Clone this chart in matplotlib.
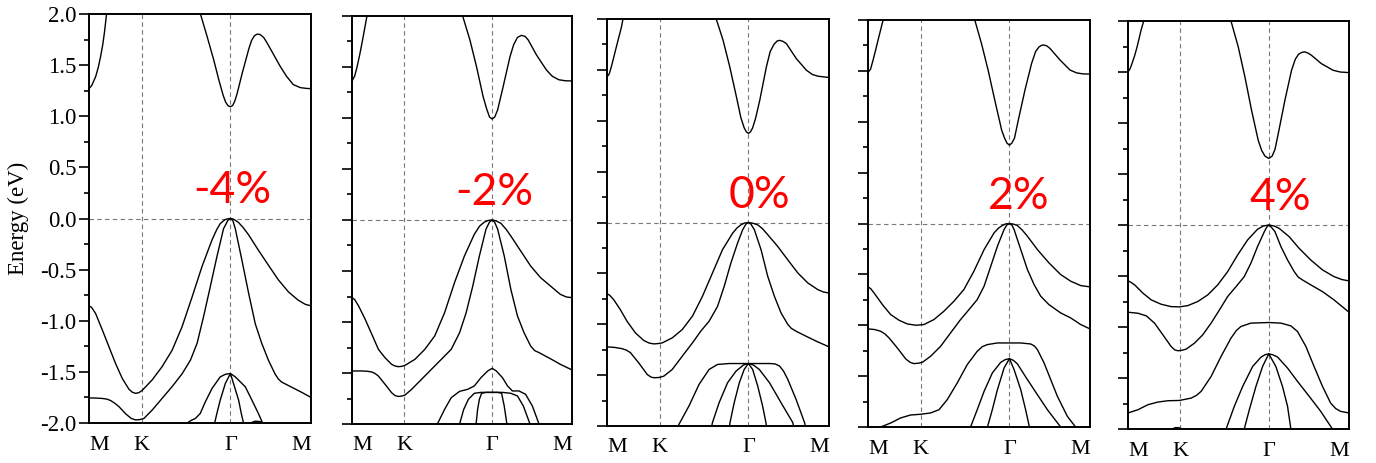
import matplotlib
matplotlib.use("Agg")
import matplotlib.pyplot as plt
from matplotlib.ticker import MultipleLocator, FormatStrFormatter

# high-symmetry path (fraction of path length)
kpath = [0.0, 0.237, 0.637, 1.0]
klabels = ["M", "K", "Γ", "M"]
strain_labels = ["-4%", "-2%", "0%", "2%", "4%"]

# each band is a list of (k, E in eV)
m4_bands = [
    [(0, 1.27), (0.012, 1.3), (0.03, 1.387), (0.042, 1.48), (0.052, 1.582), (0.062, 1.7),
     (0.07, 1.827), (0.079, 2.0)],
    [(0.502, 2.0), (0.517, 1.89), (0.532, 1.78), (0.562, 1.55), (0.585, 1.354), (0.604, 1.207),
     (0.615, 1.14), (0.626, 1.103), (0.637, 1.093), (0.647, 1.105), (0.657, 1.15), (0.667, 1.22),
     (0.69, 1.42), (0.72, 1.66), (0.732, 1.74), (0.745, 1.787), (0.757, 1.803), (0.77, 1.8),
     (0.787, 1.77), (0.8, 1.725), (0.817, 1.66), (0.862, 1.485), (0.89, 1.39), (0.92, 1.31),
     (0.952, 1.28), (0.98, 1.272), (1.0, 1.27)],
    [(0, -0.854), (0.012, -0.87), (0.03, -0.93), (0.06, -1.09), (0.09, -1.255), (0.12, -1.42),
     (0.15, -1.565), (0.18, -1.67), (0.196, -1.7), (0.21, -1.71), (0.225, -1.703), (0.24, -1.68),
     (0.284, -1.58), (0.329, -1.45), (0.374, -1.29), (0.419, -1.06), (0.464, -0.77),
     (0.509, -0.47), (0.554, -0.21), (0.575, -0.11), (0.591, -0.05), (0.612, -0.012),
     (0.625, -0.003), (0.637, 0.0), (0.648, -0.004), (0.657, -0.014), (0.674, -0.04),
     (0.695, -0.09), (0.719, -0.16), (0.763, -0.31), (0.808, -0.456), (0.853, -0.6),
     (0.898, -0.717), (0.943, -0.8), (0.975, -0.84), (1.0, -0.854)],
    [(0, -1.755), (0.03, -1.756), (0.06, -1.76), (0.08, -1.766), (0.097, -1.78), (0.115, -1.805),
     (0.135, -1.84), (0.165, -1.91), (0.19, -1.955), (0.21, -1.97), (0.228, -1.967),
     (0.247, -1.956), (0.284, -1.875), (0.329, -1.76), (0.374, -1.645), (0.419, -1.52),
     (0.457, -1.385), (0.487, -1.22), (0.516, -0.96), (0.546, -0.67), (0.576, -0.375),
     (0.606, -0.1), (0.625, -0.02), (0.637, 0.0), (0.648, -0.02), (0.659, -0.1), (0.689, -0.41),
     (0.719, -0.73), (0.749, -1.03), (0.778, -1.22), (0.808, -1.385), (0.838, -1.52),
     (0.853, -1.57), (0.868, -1.6), (0.913, -1.65), (0.958, -1.7), (1.0, -1.75)],
    [(0.442, -2.0), (0.46, -1.975), (0.479, -1.956), (0.501, -1.907), (0.524, -1.793),
     (0.554, -1.663), (0.591, -1.549), (0.615, -1.523), (0.637, -1.516), (0.659, -1.549),
     (0.704, -1.646), (0.734, -1.777), (0.763, -1.907), (0.782, -2.0)],
    [(0.566, -2.0), (0.576, -1.907), (0.591, -1.777), (0.614, -1.614), (0.637, -1.516),
     (0.651, -1.614), (0.674, -1.777), (0.686, -1.907), (0.696, -2.0)],
    [(0.726, -2.0), (0.749, -1.982), (0.771, -1.986), (0.786, -2.0)],
]

m2_bands = [
    [(0, 1.363), (0.012, 1.41), (0.023, 1.5), (0.035, 1.62), (0.045, 1.73), (0.068, 2.0)],
    [(0.503, 2.0), (0.536, 1.765), (0.566, 1.503), (0.596, 1.21), (0.612, 1.09), (0.625, 1.01),
     (0.637, 0.99), (0.649, 1.01), (0.662, 1.08), (0.687, 1.307), (0.718, 1.6), (0.735, 1.72),
     (0.752, 1.79), (0.77, 1.81), (0.787, 1.8), (0.801, 1.765), (0.838, 1.62), (0.884, 1.47),
     (0.91, 1.41), (0.94, 1.375), (0.97, 1.365), (1.0, 1.363)],
    [(0, -0.761), (0.012, -0.78), (0.03, -0.843), (0.06, -0.974), (0.09, -1.12), (0.12, -1.268),
     (0.15, -1.35), (0.18, -1.415), (0.196, -1.432), (0.211, -1.438), (0.226, -1.435),
     (0.241, -1.425), (0.286, -1.366), (0.331, -1.268), (0.376, -1.137), (0.421, -0.908),
     (0.466, -0.614), (0.511, -0.353), (0.556, -0.14), (0.58, -0.06), (0.602, -0.02),
     (0.62, -0.004), (0.637, 0.0), (0.655, -0.008), (0.677, -0.033), (0.7, -0.09),
     (0.722, -0.157), (0.767, -0.304), (0.812, -0.451), (0.857, -0.565), (0.902, -0.647),
     (0.947, -0.729), (0.975, -0.755), (1.0, -0.761)],
    [(0, -1.48), (0.045, -1.48), (0.07, -1.483), (0.09, -1.49), (0.105, -1.505), (0.12, -1.53),
     (0.15, -1.61), (0.18, -1.693), (0.196, -1.722), (0.211, -1.73), (0.226, -1.726),
     (0.241, -1.716), (0.271, -1.66), (0.316, -1.562), (0.361, -1.464), (0.406, -1.366),
     (0.451, -1.268), (0.489, -1.105), (0.519, -0.908), (0.549, -0.647), (0.579, -0.353),
     (0.609, -0.09), (0.625, -0.02), (0.637, 0.0), (0.648, -0.02), (0.662, -0.09),
     (0.692, -0.353), (0.722, -0.68), (0.752, -0.94), (0.782, -1.105), (0.812, -1.235),
     (0.83, -1.28), (0.85, -1.3), (0.902, -1.36), (0.947, -1.415), (1.0, -1.47)],
    [(0.388, -2.0), (0.421, -1.856), (0.451, -1.742), (0.489, -1.68), (0.526, -1.66),
     (0.556, -1.627), (0.586, -1.546), (0.617, -1.48), (0.637, -1.454), (0.656, -1.48),
     (0.684, -1.546), (0.707, -1.627), (0.729, -1.676), (0.759, -1.676), (0.789, -1.709),
     (0.82, -1.824), (0.85, -2.0)],
    [(0.489, -2.0), (0.508, -1.856), (0.529, -1.758), (0.556, -1.699), (0.586, -1.69),
     (0.637, -1.69), (0.684, -1.69), (0.722, -1.699), (0.752, -1.725), (0.779, -1.824),
     (0.809, -2.0)],
    [(0.564, -2.0), (0.571, -1.856), (0.579, -1.758), (0.589, -1.699), (0.609, -1.69),
     (0.637, -1.69), (0.662, -1.69), (0.68, -1.699), (0.692, -1.824), (0.704, -2.0)],
]

p0_bands = [
    [(0, 1.431), (0.01, 1.46), (0.0195, 1.53), (0.03, 1.62), (0.042, 1.725), (0.065, 1.92),
     (0.072, 2.0)],
    [(0.492, 2.0), (0.523, 1.79), (0.553, 1.53), (0.583, 1.235), (0.603, 1.03), (0.618, 0.93),
     (0.628, 0.89), (0.637, 0.876), (0.646, 0.89), (0.656, 0.93), (0.67, 1.03), (0.688, 1.2),
     (0.718, 1.53), (0.735, 1.68), (0.752, 1.75), (0.767, 1.785), (0.778, 1.79), (0.793, 1.78),
     (0.808, 1.758), (0.853, 1.61), (0.898, 1.497), (0.925, 1.455), (0.95, 1.438), (1.0, 1.425)],
    [(0, -0.7), (0.012, -0.715), (0.03, -0.758), (0.06, -0.856), (0.09, -0.97), (0.128, -1.085),
     (0.166, -1.16), (0.19, -1.185), (0.211, -1.193), (0.23, -1.19), (0.249, -1.183),
     (0.294, -1.134), (0.339, -1.052), (0.385, -0.92), (0.43, -0.725), (0.475, -0.497),
     (0.52, -0.268), (0.566, -0.105), (0.585, -0.055), (0.603, -0.023), (0.62, -0.005),
     (0.637, 0.0), (0.657, -0.007), (0.679, -0.023), (0.7, -0.06), (0.724, -0.12),
     (0.769, -0.235), (0.814, -0.366), (0.86, -0.497), (0.905, -0.595), (0.95, -0.66),
     (0.975, -0.683), (1.0, -0.693)],
    [(0, -1.222), (0.035, -1.228), (0.068, -1.24), (0.088, -1.255), (0.106, -1.28),
     (0.143, -1.38), (0.181, -1.493), (0.197, -1.518), (0.211, -1.526), (0.235, -1.523),
     (0.256, -1.51), (0.294, -1.444), (0.339, -1.314), (0.385, -1.183), (0.422, -1.069),
     (0.46, -0.97), (0.498, -0.824), (0.528, -0.627), (0.558, -0.399), (0.588, -0.203),
     (0.611, -0.072), (0.626, -0.015), (0.637, 0.0), (0.648, -0.015), (0.664, -0.072),
     (0.694, -0.268), (0.724, -0.529), (0.754, -0.725), (0.784, -0.889), (0.814, -1.0),
     (0.83, -1.04), (0.852, -1.069), (0.897, -1.118), (0.943, -1.167), (1.0, -1.222)],
    [(0.32, -2.0), (0.324, -1.984), (0.37, -1.8), (0.415, -1.59), (0.46, -1.444), (0.498, -1.395),
     (0.551, -1.386), (0.637, -1.386), (0.732, -1.386), (0.757, -1.39), (0.777, -1.41),
     (0.795, -1.46), (0.814, -1.54), (0.852, -1.74), (0.89, -1.967), (0.893, -2.0)],
    [(0.472, -2.0), (0.475, -1.967), (0.505, -1.771), (0.543, -1.575), (0.581, -1.461),
     (0.615, -1.4), (0.637, -1.386), (0.659, -1.4), (0.686, -1.444), (0.732, -1.575),
     (0.784, -1.771), (0.837, -1.967), (0.84, -2.0)],
    [(0.552, -2.0), (0.554, -1.967), (0.573, -1.771), (0.596, -1.575), (0.618, -1.444),
     (0.637, -1.386), (0.656, -1.444), (0.679, -1.608), (0.701, -1.804), (0.716, -1.967),
     (0.718, -2.0)],
]

p2_bands = [
    [(0, 1.482), (0.012, 1.52), (0.023, 1.607), (0.035, 1.71), (0.045, 1.8), (0.068, 2.0)],
    [(0.481, 2.0), (0.511, 1.77), (0.541, 1.508), (0.571, 1.213), (0.602, 0.918), (0.615, 0.84),
     (0.626, 0.79), (0.637, 0.77), (0.648, 0.79), (0.66, 0.84), (0.677, 1.016), (0.707, 1.311),
     (0.737, 1.574), (0.755, 1.69), (0.77, 1.735), (0.782, 1.752), (0.793, 1.754),
     (0.806, 1.745), (0.82, 1.72), (0.865, 1.607), (0.91, 1.508), (0.94, 1.48), (0.97, 1.47),
     (1.0, 1.469)],
    [(0, -0.623), (0.012, -0.64), (0.027, -0.682), (0.065, -0.797), (0.102, -0.895),
     (0.14, -0.951), (0.177, -0.987), (0.215, -1.0), (0.252, -0.993), (0.297, -0.944),
     (0.342, -0.862), (0.387, -0.764), (0.432, -0.649), (0.477, -0.469), (0.523, -0.256),
     (0.568, -0.092), (0.588, -0.045), (0.605, -0.02), (0.62, -0.004), (0.637, 0.0),
     (0.655, -0.006), (0.673, -0.02), (0.695, -0.065), (0.718, -0.125), (0.763, -0.256),
     (0.815, -0.387), (0.868, -0.502), (0.913, -0.567), (0.958, -0.61), (1.0, -0.623)],
    [(0, -1.036), (0.03, -1.042), (0.057, -1.059), (0.076, -1.085), (0.095, -1.125),
     (0.132, -1.223), (0.17, -1.331), (0.19, -1.365), (0.207, -1.377), (0.227, -1.373),
     (0.245, -1.364), (0.282, -1.305), (0.327, -1.207), (0.372, -1.075), (0.417, -0.944),
     (0.455, -0.846), (0.492, -0.748), (0.523, -0.616), (0.553, -0.42), (0.583, -0.223),
     (0.613, -0.059), (0.625, -0.015), (0.637, 0.0), (0.648, -0.015), (0.658, -0.059),
     (0.688, -0.256), (0.718, -0.452), (0.748, -0.6), (0.778, -0.715), (0.815, -0.797),
     (0.868, -0.879), (0.913, -0.928), (0.958, -0.993), (1.0, -1.036)],
    [(0.057, -2.0), (0.102, -1.961), (0.147, -1.911), (0.192, -1.882), (0.237, -1.875),
     (0.282, -1.862), (0.32, -1.83), (0.357, -1.731), (0.402, -1.567), (0.447, -1.387),
     (0.492, -1.256), (0.515, -1.21), (0.538, -1.19), (0.583, -1.174), (0.637, -1.174),
     (0.688, -1.174), (0.733, -1.184), (0.75, -1.205), (0.763, -1.239), (0.793, -1.37),
     (0.823, -1.534), (0.853, -1.698), (0.898, -1.895), (0.935, -2.0)],
    [(0.462, -2.0), (0.492, -1.83), (0.523, -1.649), (0.56, -1.469), (0.598, -1.364),
     (0.618, -1.338), (0.637, -1.328), (0.655, -1.345), (0.673, -1.38), (0.708, -1.5),
     (0.748, -1.633), (0.808, -1.83), (0.868, -2.0)],
    [(0.538, -2.0), (0.56, -1.83), (0.583, -1.633), (0.613, -1.42), (0.637, -1.328),
     (0.658, -1.436), (0.688, -1.633), (0.71, -1.83), (0.727, -2.0)],
]

p4_bands = [
    [(0, 1.5), (0.009, 1.53), (0.018, 1.582), (0.03, 1.66), (0.041, 1.745), (0.059, 1.909),
     (0.071, 2.0)],
    [(0.466, 2.0), (0.499, 1.745), (0.529, 1.452), (0.559, 1.126), (0.589, 0.832), (0.605, 0.73),
     (0.62, 0.675), (0.637, 0.653), (0.652, 0.675), (0.665, 0.74), (0.68, 0.897), (0.71, 1.223),
     (0.74, 1.517), (0.757, 1.625), (0.772, 1.675), (0.787, 1.693), (0.8, 1.697), (0.815, 1.685),
     (0.83, 1.664), (0.875, 1.582), (0.928, 1.517), (0.96, 1.5), (1.0, 1.494)],
    [(0, -0.548), (0.012, -0.56), (0.03, -0.587), (0.068, -0.669), (0.105, -0.734),
     (0.15, -0.777), (0.195, -0.8), (0.233, -0.803), (0.271, -0.79), (0.316, -0.75),
     (0.361, -0.685), (0.406, -0.587), (0.451, -0.457), (0.496, -0.294), (0.541, -0.147),
     (0.586, -0.042), (0.612, -0.01), (0.637, 0.0), (0.662, -0.01), (0.684, -0.033),
     (0.729, -0.114), (0.774, -0.228), (0.827, -0.343), (0.88, -0.44), (0.932, -0.506),
     (0.968, -0.535), (1.0, -0.548)],
    [(0, -0.855), (0.045, -0.865), (0.083, -0.891), (0.12, -0.962), (0.158, -1.077),
     (0.195, -1.191), (0.212, -1.225), (0.226, -1.233), (0.245, -1.228), (0.263, -1.217),
     (0.301, -1.158), (0.338, -1.077), (0.376, -0.962), (0.414, -0.832), (0.451, -0.701),
     (0.489, -0.604), (0.526, -0.506), (0.556, -0.375), (0.586, -0.212), (0.617, -0.065),
     (0.628, -0.02), (0.637, 0.0), (0.648, -0.02), (0.665, -0.065), (0.692, -0.212),
     (0.722, -0.343), (0.752, -0.457), (0.77, -0.51), (0.789, -0.538), (0.827, -0.587),
     (0.88, -0.653), (0.932, -0.734), (1.0, -0.855)],
    [(0, -1.843), (0.045, -1.811), (0.09, -1.762), (0.135, -1.736), (0.18, -1.723),
     (0.233, -1.72), (0.286, -1.697), (0.31, -1.67), (0.331, -1.631), (0.376, -1.485),
     (0.421, -1.289), (0.466, -1.109), (0.49, -1.035), (0.511, -0.995), (0.556, -0.962),
     (0.637, -0.956), (0.692, -0.962), (0.737, -0.989), (0.767, -1.044), (0.805, -1.191),
     (0.842, -1.387), (0.88, -1.582), (0.917, -1.746), (0.94, -1.8), (0.962, -1.827),
     (1.0, -1.843)],
    [(0.444, -2.0), (0.481, -1.778), (0.519, -1.582), (0.564, -1.387), (0.602, -1.295),
     (0.62, -1.272), (0.637, -1.263), (0.655, -1.272), (0.677, -1.295), (0.722, -1.403),
     (0.767, -1.533), (0.82, -1.68), (0.872, -1.827), (0.925, -2.0)],
    [(0.526, -2.0), (0.549, -1.811), (0.579, -1.582), (0.609, -1.387), (0.637, -1.263),
     (0.669, -1.387), (0.699, -1.582), (0.722, -1.778), (0.737, -2.0)],
    [(0.2, -2.0), (0.215, -1.986), (0.232, -1.988), (0.245, -2.0)],
]

all_bands = [m4_bands, m2_bands, p0_bands, p2_bands, p4_bands]

# panel boxes in pixels: left, top, right, bottom
boxes = [(89, 14, 311, 423), (352, 16, 572, 424), (607, 19, 829, 426),
         (868, 20, 1090, 427), (1128, 21, 1349, 429)]
label_dx = [0.01, 0.01, 0.05, 0.04, 0.05]

W, H = 1376, 463
serif = ["Liberation Serif", "DejaVu Serif"]

fig = plt.figure(figsize=(W / 100, H / 100), dpi=100)

for i, bands in enumerate(all_bands):
    l, t, r, b = boxes[i]
    ax = fig.add_axes([l / W, 1 - b / H, (r - l) / W, (b - t) / H])

    for band in bands:
        ks = [p[0] for p in band]
        es = [p[1] for p in band]
        ax.plot(ks, es, color="black", lw=1.0, solid_joinstyle="round")

    for kx in kpath[1:3]:
        ax.axvline(kx, color="#777777", lw=0.8, ls=(0, (4, 3)), zorder=0)
    ax.axhline(0, color="#777777", lw=0.8, ls=(0, (4, 3)), zorder=0)

    ax.set_xlim(0, 1)
    ax.set_ylim(-2, 2)
    for sp in ax.spines.values():
        sp.set_linewidth(1.4)

    ax.set_xticks(kpath)
    ax.set_xticklabels(klabels, family=serif, fontsize=16)
    ax.tick_params(axis="x", length=0, pad=9)
    xl = ax.get_xticklabels()
    xl[0].set_ha("left")
    xl[-1].set_ha("right")

    ax.yaxis.set_major_locator(MultipleLocator(0.5))
    ax.yaxis.set_minor_locator(MultipleLocator(0.25))
    ax.tick_params(axis="y", which="major", direction="out", length=7, width=1.2, pad=2)
    ax.tick_params(axis="y", which="minor", direction="out", length=3.5, width=1.2)
    if i == 0:
        ax.yaxis.set_major_formatter(FormatStrFormatter("%.1f"))
        for lab in ax.get_yticklabels():
            lab.set_family(serif)
            lab.set_fontsize(16.5)
        ax.set_ylabel("Energy (eV)", family=serif, fontsize=16.5)
        ax.yaxis.set_label_coords(-0.27, 0.5)
    else:
        ax.set_yticklabels([])

    ax.text(kpath[2] + label_dx[i], 0.27, strain_labels[i], color="#ff0000",
            fontsize=32, family=["Lato", "DejaVu Sans"], ha="center", va="center")

fig.savefig("out.png", dpi=100)
